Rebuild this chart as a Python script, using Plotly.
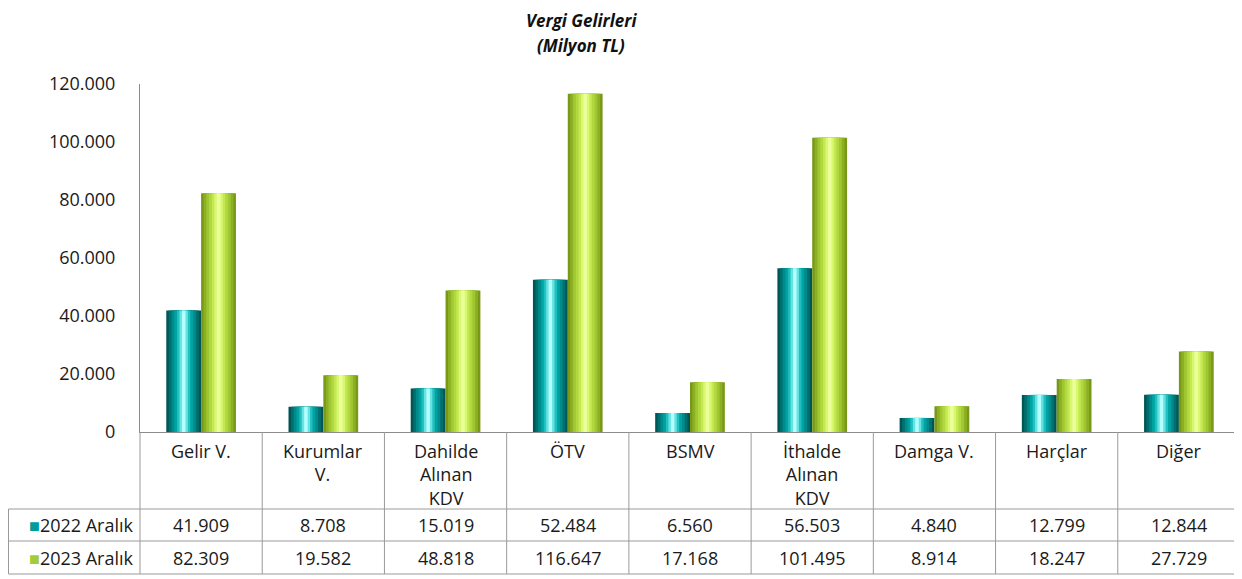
import plotly.graph_objects as go

categories = ["Gelir V.", "Kurumlar V.", "Dahilde Alınan KDV", "ÖTV", "BSMV",
              "İthalde Alınan KDV", "Damga V.", "Harçlar", "Diğer"]
category_labels = ["Gelir V.", "Kurumlar<br>V.", "Dahilde<br>Alınan<br>KDV", "ÖTV", "BSMV",
                   "İthalde<br>Alınan<br>KDV", "Damga V.", "Harçlar", "Diğer"]
series_names = ["2022 Aralık", "2023 Aralık"]
values_2022 = [41909, 8708, 15019, 52484, 6560, 56503, 4840, 12799, 12844]
values_2023 = [82309, 19582, 48818, 116647, 17168, 101495, 8914, 18247, 27729]
y_ticks = [0, 20000, 40000, 60000, 80000, 100000, 120000]
title_lines = ["Vergi Gelirleri", "(Milyon TL)"]

# page body has an 8px default margin; work in screen coordinates and compensate
OFF = 8
W, H = 1242 - OFF, 579 - OFF
SX0, SX1 = 140, 1240      # plot area in screen px
SY0, SY1 = 84, 432
L, T = SX0 - OFF, SY0 - OFF
R = W - (SX1 - OFF)
B = H - (SY1 - OFF)
PW, PH = SX1 - SX0, SY1 - SY0

def px(x):   # screen x -> paper
    return (x - SX0) / PW

def py(y):   # screen y -> paper
    return (SY1 - y) / PH

FONT = "Open Sans"
FS = 18
teal_shades = ["#005656", "#006f6f", "#008a8a", "#00a3a3", "#22bfbf", "#66e2e2", "#b4ffff"]
green_shades = ["#789818", "#8cb024", "#a0c632", "#b2d840", "#c4e852", "#d8f870", "#ecff9c"]
layer_fracs = [1.0, 0.86, 0.7, 0.54, 0.38, 0.24, 0.1]

bar_w = 0.285
xs = list(range(len(categories)))

fig = go.Figure()
for si, (vals, shades) in enumerate([(values_2022, teal_shades), (values_2023, green_shades)]):
    center_off = -bar_w / 2 if si == 0 else bar_w / 2
    for li, (frac, col) in enumerate(zip(layer_fracs, shades)):
        w = bar_w * frac
        fig.add_trace(go.Bar(
            x=xs, y=vals, width=[w] * len(xs), offset=[center_off - w / 2] * len(xs),
            marker=dict(color=col, line=dict(width=0)),
            name=series_names[si], showlegend=False,
            hoverinfo="skip" if li > 0 else "y+name",
        ))

fig.update_layout(
    width=W, height=H, barmode="overlay",
    margin=dict(l=L, r=R, t=T, b=B),
    paper_bgcolor="white", plot_bgcolor="white",
    separators=",.",
    font=dict(family=FONT, size=FS, color="#1a1a1a"),
    showlegend=False,
)
fig.update_xaxes(range=[-0.5, len(categories) - 0.5], showticklabels=False,
                 showgrid=False, zeroline=False, showline=True, linecolor="#8c8c8c", linewidth=1)
fig.update_yaxes(range=[0, 120000], tickvals=y_ticks, tickformat=",d",
                 showgrid=False, zeroline=False, showline=True, linecolor="#8c8c8c", linewidth=1,
                 ticks="", ticklen=0, tickfont=dict(size=FS, family=FONT), ticklabelstandoff=20)

# title (two lines, stacked without overlap)
fig.add_annotation(x=px(581), y=py(8.5), xref="paper", yref="paper",
                   text=f"<b><i>{title_lines[0]}</i></b>", borderpad=0,
                   showarrow=False, font=dict(size=17, family=FONT, color="#111"),
                   xanchor="center", yanchor="top")
fig.add_annotation(x=px(581), y=py(33), xref="paper", yref="paper",
                   text=f"<b><i>{title_lines[1]}</i></b>", borderpad=0,
                   showarrow=False, font=dict(size=17, family=FONT, color="#111"),
                   xanchor="center", yanchor="top")

# data table
line_col = "#9a9a9a"
y_row_top, y_row_mid, y_row_bot = 509, 541, 574
left_x = 8.5
for k in range(len(categories) + 1):
    xx = px(SX0 + k * PW / len(categories))
    fig.add_shape(type="line", xref="paper", yref="paper", x0=xx, x1=xx,
                  y0=py(SY1), y1=py(y_row_bot), line=dict(color=line_col, width=1))
fig.add_shape(type="line", xref="paper", yref="paper", x0=px(left_x), x1=px(left_x),
              y0=py(y_row_top), y1=py(y_row_bot), line=dict(color=line_col, width=1))
for yy in [y_row_top, y_row_mid, y_row_bot]:
    fig.add_shape(type="line", xref="paper", yref="paper", x0=px(left_x), x1=px(SX1),
                  y0=py(yy), y1=py(yy), line=dict(color=line_col, width=1))

for i, lab in enumerate(category_labels):
    fig.add_annotation(x=i, y=py(437), xref="x", yref="paper", text=lab, showarrow=False,
                       xanchor="center", yanchor="top", font=dict(size=FS, family=FONT))
    fig.add_annotation(x=i, y=py((y_row_top + y_row_mid) / 2), xref="x", yref="paper",
                       text=f"{values_2022[i]:,}".replace(",", "."), showarrow=False,
                       xanchor="center", yanchor="middle", font=dict(size=FS, family=FONT))
    fig.add_annotation(x=i, y=py((y_row_mid + y_row_bot) / 2), xref="x", yref="paper",
                       text=f"{values_2023[i]:,}".replace(",", "."), showarrow=False,
                       xanchor="center", yanchor="middle", font=dict(size=FS, family=FONT))

key_cols = ["#009c9c", "#a4cc38"]
for si, (name, yy) in enumerate(zip(series_names, [(y_row_top + y_row_mid) / 2, (y_row_mid + y_row_bot) / 2])):
    fig.add_annotation(x=px(136), y=py(yy), xref="paper", yref="paper",
                       text=f"<span style='color:{key_cols[si]}'>■</span>{name}", showarrow=False,
                       xanchor="right", yanchor="middle", font=dict(size=FS, family=FONT))

fig.write_html("out.html")
